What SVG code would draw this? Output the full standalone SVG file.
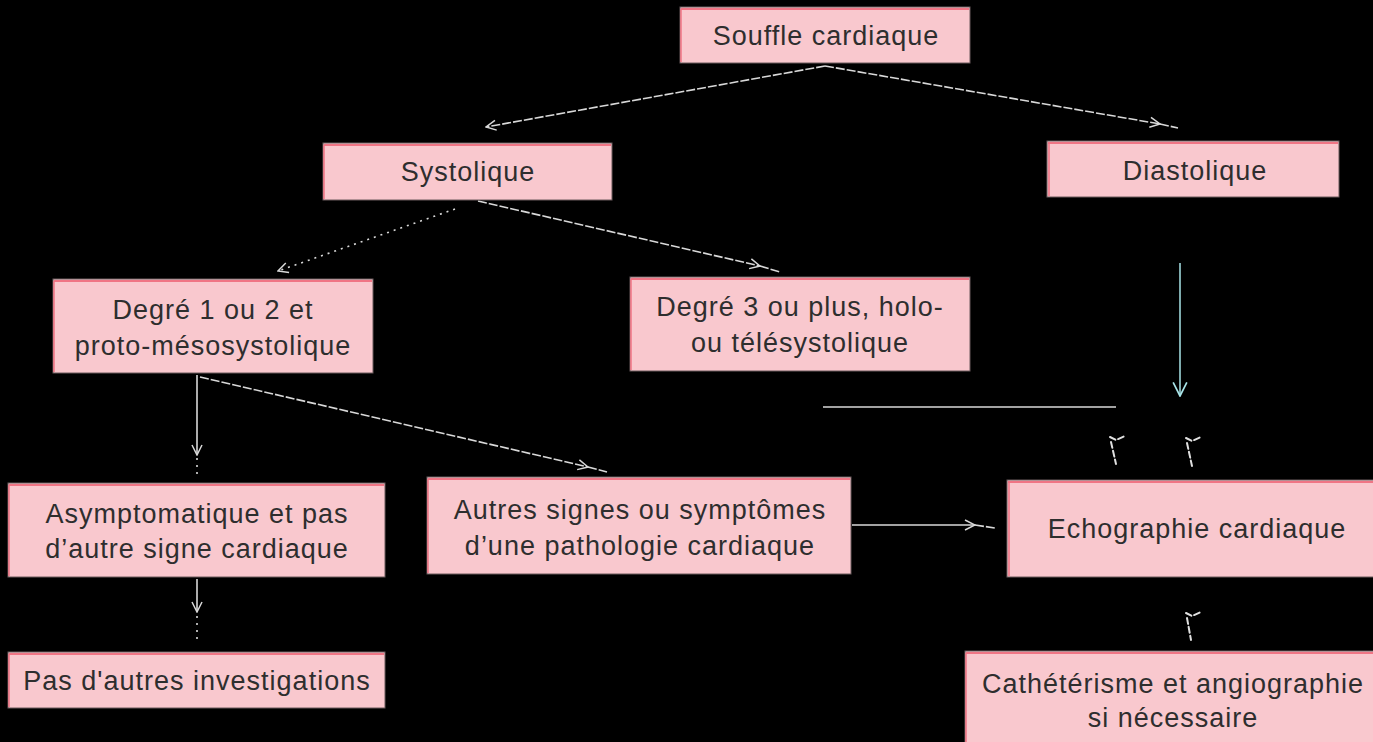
<svg xmlns="http://www.w3.org/2000/svg" width="1373" height="742" viewBox="0 0 1373 742">
<defs>
<style>
.box rect.b{fill:#f9c8ce;stroke:#6a5a5c;stroke-width:1}
.box line.t{stroke:#f07585;stroke-width:2}
.box line.l{stroke:#f07585;stroke-width:1.5}
.box text{font-family:"Liberation Sans",Arial,sans-serif;font-size:27px;fill:#2e2e2e;text-anchor:middle;letter-spacing:1px}
.c{stroke:#d8d8d8;stroke-width:1.6;fill:none}
.d{stroke-dasharray:9 2}
.p{stroke-dasharray:2 5}
.m{stroke:#e0e0e0;stroke-width:2;fill:none;stroke-linecap:round}
</style>
<marker id="a" viewBox="0 0 12 12" refX="11" refY="6" markerWidth="12" markerHeight="12" markerUnits="userSpaceOnUse" orient="auto">
<path d="M1,1 L11,6 L1,11" fill="none" stroke="#d8d8d8" stroke-width="1.5"/>
</marker>
<marker id="ab" viewBox="0 0 14 14" refX="13" refY="7" markerWidth="16" markerHeight="16" markerUnits="userSpaceOnUse" orient="auto">
<path d="M1,1 L13,7 L1,13" fill="none" stroke="#a8e4e8" stroke-width="1.5"/>
</marker>
</defs>
<rect width="1373" height="742" fill="#000"/>
<g id="connectors">
<line class="c d" x1="825" y1="66" x2="486" y2="127" marker-end="url(#a)"/>
<line class="c d" x1="825" y1="66" x2="1160" y2="124" marker-end="url(#a)"/>
<line class="c d" x1="1160" y1="124" x2="1178" y2="128"/>
<line class="c p" x1="455" y1="209" x2="278" y2="271" marker-end="url(#a)"/>
<line class="c d" x1="478" y1="201" x2="760" y2="266" marker-end="url(#a)"/>
<line class="c d" x1="760" y1="266" x2="780" y2="272"/>
<line x1="1180" y1="263" x2="1180" y2="396" stroke="#a8e4e8" stroke-width="1.5" marker-end="url(#ab)"/>
<line class="c" x1="823" y1="407" x2="1116" y2="407" stroke-width="2"/>
<line class="c" x1="197" y1="375" x2="197" y2="455" marker-end="url(#a)"/>
<line class="c p" x1="197" y1="458" x2="197" y2="476"/>
<line class="c d" x1="200" y1="377" x2="588" y2="467" marker-end="url(#a)"/>
<line class="c d" x1="588" y1="467" x2="607" y2="472"/>
<line class="c" x1="197" y1="579" x2="197" y2="612" marker-end="url(#a)"/>
<line class="c p" x1="197" y1="616" x2="197" y2="642"/>
<line class="c" x1="852" y1="525" x2="975" y2="525" stroke-width="2" marker-end="url(#a)"/>
<line class="c d" x1="975" y1="525" x2="995" y2="528"/>
<path class="m" d="M1110,437 L1116,440 L1125,436 M1111,442 L1116,464" stroke-dasharray="6 3"/>
<path class="m" d="M1186,438 L1192,441 L1201,437 M1187,443 L1192,466" stroke-dasharray="6 3"/>
<path class="m" d="M1186,613 L1192,616 L1201,612 M1187,618 L1191,640" stroke-dasharray="6 3"/>
</g>
<g id="souffle" class="box">
<rect class="b" x="680" y="7" width="290" height="56"/>
<line class="t" x1="681" y1="9" x2="969" y2="9"/><line class="l" x1="681" y1="9" x2="681" y2="62"/>
<text x="826" y="45">Souffle cardiaque</text>
</g>
<g id="systolique" class="box">
<rect class="b" x="323" y="143" width="289" height="57"/>
<line class="t" x1="324" y1="145" x2="611" y2="145"/><line class="l" x1="324" y1="145" x2="324" y2="199"/>
<text x="468" y="181">Systolique</text>
</g>
<g id="diastolique" class="box">
<rect class="b" x="1047" y="141" width="292" height="56"/>
<line class="t" x1="1048" y1="143" x2="1338" y2="143"/><line class="l" x1="1049" y1="143" x2="1049" y2="196"/>
<text x="1195" y="180">Diastolique</text>
</g>
<g id="degre12" class="box">
<rect class="b" x="53" y="279" width="320" height="94"/>
<line class="t" x1="54" y1="281" x2="372" y2="281"/><line class="l" x1="54" y1="281" x2="54" y2="372"/>
<text x="213" y="319">Degré 1 ou 2 et</text>
<text x="213" y="355">proto-mésosystolique</text>
</g>
<g id="degre3" class="box">
<rect class="b" x="630" y="277" width="340" height="94"/>
<line class="t" x1="631" y1="279" x2="969" y2="279"/><line class="l" x1="631" y1="279" x2="631" y2="370"/>
<text x="800" y="316">Degré 3 ou plus, holo-</text>
<text x="800" y="352">ou télésystolique</text>
</g>
<g id="asymptomatique" class="box">
<rect class="b" x="8" y="483" width="377" height="94"/>
<line class="t" x1="9" y1="485" x2="384" y2="485"/><line class="l" x1="9" y1="485" x2="9" y2="576"/>
<text x="197" y="523">Asymptomatique et pas</text>
<text x="197" y="558">d’autre signe cardiaque</text>
</g>
<g id="autres" class="box">
<rect class="b" x="427" y="477" width="424" height="97"/>
<line class="t" x1="428" y1="479" x2="850" y2="479"/><line class="l" x1="428" y1="479" x2="428" y2="573"/>
<text x="640" y="519">Autres signes ou symptômes</text>
<text x="640" y="555">d’une pathologie cardiaque</text>
</g>
<g id="echographie" class="box">
<rect class="b" x="1007" y="480" width="370" height="97"/>
<line class="t" x1="1008" y1="482" x2="1373" y2="482"/><line class="l" x1="1009" y1="482" x2="1009" y2="576"/>
<text x="1197" y="538">Echographie cardiaque</text>
</g>
<g id="pasdautres" class="box">
<rect class="b" x="8" y="652" width="377" height="56"/>
<line class="t" x1="9" y1="654" x2="384" y2="654"/><line class="l" x1="9" y1="654" x2="9" y2="707"/>
<text x="197" y="690">Pas d'autres investigations</text>
</g>
<g id="catheterisme" class="box">
<rect class="b" x="965" y="651" width="412" height="95"/>
<line class="t" x1="966" y1="653" x2="1373" y2="653"/><line class="l" x1="966" y1="653" x2="966" y2="742"/>
<text x="1173" y="693">Cathétérisme et angiographie</text>
<text x="1173" y="727">si nécessaire</text>
</g>
</svg>
